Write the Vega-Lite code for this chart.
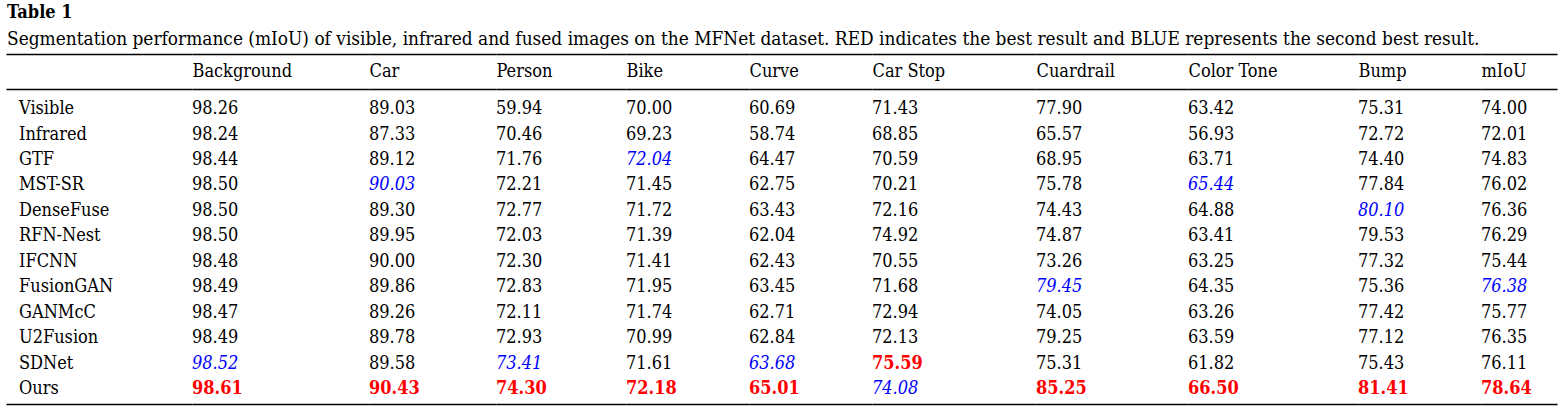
{
  "$schema": "https://vega.github.io/schema/vega-lite/v6.json",
  "padding": {"left": 6, "right": 8, "top": 4, "bottom": 7},
  "background": "white",
  "title": {
    "text": "Table 1",
    "subtitle": "Segmentation performance (mIoU) of visible, infrared and fused images on the MFNet dataset. RED indicates the best result and BLUE represents the second best result.",
    "anchor": "start",
    "frame": "bounds",
    "dx": 1,
    "font": "DejaVu Serif Condensed",
    "fontSize": 18,
    "fontWeight": "bold",
    "color": "black",
    "subtitleFont": "DejaVu Serif Condensed",
    "subtitleFontSize": 18.9,
    "subtitleColor": "black",
    "subtitlePadding": 8,
    "offset": 5
  },
  "data": {
    "values": [
      {"m":"Visible","c":"Background","v":98.26,"r":"n"},{"m":"Visible","c":"Car","v":89.03,"r":"n"},{"m":"Visible","c":"Person","v":59.94,"r":"n"},{"m":"Visible","c":"Bike","v":70.00,"r":"n"},{"m":"Visible","c":"Curve","v":60.69,"r":"n"},{"m":"Visible","c":"Car Stop","v":71.43,"r":"n"},{"m":"Visible","c":"Cuardrail","v":77.90,"r":"n"},{"m":"Visible","c":"Color Tone","v":63.42,"r":"n"},{"m":"Visible","c":"Bump","v":75.31,"r":"n"},{"m":"Visible","c":"mIoU","v":74.00,"r":"n"},
      {"m":"Infrared","c":"Background","v":98.24,"r":"n"},{"m":"Infrared","c":"Car","v":87.33,"r":"n"},{"m":"Infrared","c":"Person","v":70.46,"r":"n"},{"m":"Infrared","c":"Bike","v":69.23,"r":"n"},{"m":"Infrared","c":"Curve","v":58.74,"r":"n"},{"m":"Infrared","c":"Car Stop","v":68.85,"r":"n"},{"m":"Infrared","c":"Cuardrail","v":65.57,"r":"n"},{"m":"Infrared","c":"Color Tone","v":56.93,"r":"n"},{"m":"Infrared","c":"Bump","v":72.72,"r":"n"},{"m":"Infrared","c":"mIoU","v":72.01,"r":"n"},
      {"m":"GTF","c":"Background","v":98.44,"r":"n"},{"m":"GTF","c":"Car","v":89.12,"r":"n"},{"m":"GTF","c":"Person","v":71.76,"r":"n"},{"m":"GTF","c":"Bike","v":72.04,"r":"s"},{"m":"GTF","c":"Curve","v":64.47,"r":"n"},{"m":"GTF","c":"Car Stop","v":70.59,"r":"n"},{"m":"GTF","c":"Cuardrail","v":68.95,"r":"n"},{"m":"GTF","c":"Color Tone","v":63.71,"r":"n"},{"m":"GTF","c":"Bump","v":74.40,"r":"n"},{"m":"GTF","c":"mIoU","v":74.83,"r":"n"},
      {"m":"MST-SR","c":"Background","v":98.50,"r":"n"},{"m":"MST-SR","c":"Car","v":90.03,"r":"s"},{"m":"MST-SR","c":"Person","v":72.21,"r":"n"},{"m":"MST-SR","c":"Bike","v":71.45,"r":"n"},{"m":"MST-SR","c":"Curve","v":62.75,"r":"n"},{"m":"MST-SR","c":"Car Stop","v":70.21,"r":"n"},{"m":"MST-SR","c":"Cuardrail","v":75.78,"r":"n"},{"m":"MST-SR","c":"Color Tone","v":65.44,"r":"s"},{"m":"MST-SR","c":"Bump","v":77.84,"r":"n"},{"m":"MST-SR","c":"mIoU","v":76.02,"r":"n"},
      {"m":"DenseFuse","c":"Background","v":98.50,"r":"n"},{"m":"DenseFuse","c":"Car","v":89.30,"r":"n"},{"m":"DenseFuse","c":"Person","v":72.77,"r":"n"},{"m":"DenseFuse","c":"Bike","v":71.72,"r":"n"},{"m":"DenseFuse","c":"Curve","v":63.43,"r":"n"},{"m":"DenseFuse","c":"Car Stop","v":72.16,"r":"n"},{"m":"DenseFuse","c":"Cuardrail","v":74.43,"r":"n"},{"m":"DenseFuse","c":"Color Tone","v":64.88,"r":"n"},{"m":"DenseFuse","c":"Bump","v":80.10,"r":"s"},{"m":"DenseFuse","c":"mIoU","v":76.36,"r":"n"},
      {"m":"RFN-Nest","c":"Background","v":98.50,"r":"n"},{"m":"RFN-Nest","c":"Car","v":89.95,"r":"n"},{"m":"RFN-Nest","c":"Person","v":72.03,"r":"n"},{"m":"RFN-Nest","c":"Bike","v":71.39,"r":"n"},{"m":"RFN-Nest","c":"Curve","v":62.04,"r":"n"},{"m":"RFN-Nest","c":"Car Stop","v":74.92,"r":"n"},{"m":"RFN-Nest","c":"Cuardrail","v":74.87,"r":"n"},{"m":"RFN-Nest","c":"Color Tone","v":63.41,"r":"n"},{"m":"RFN-Nest","c":"Bump","v":79.53,"r":"n"},{"m":"RFN-Nest","c":"mIoU","v":76.29,"r":"n"},
      {"m":"IFCNN","c":"Background","v":98.48,"r":"n"},{"m":"IFCNN","c":"Car","v":90.00,"r":"n"},{"m":"IFCNN","c":"Person","v":72.30,"r":"n"},{"m":"IFCNN","c":"Bike","v":71.41,"r":"n"},{"m":"IFCNN","c":"Curve","v":62.43,"r":"n"},{"m":"IFCNN","c":"Car Stop","v":70.55,"r":"n"},{"m":"IFCNN","c":"Cuardrail","v":73.26,"r":"n"},{"m":"IFCNN","c":"Color Tone","v":63.25,"r":"n"},{"m":"IFCNN","c":"Bump","v":77.32,"r":"n"},{"m":"IFCNN","c":"mIoU","v":75.44,"r":"n"},
      {"m":"FusionGAN","c":"Background","v":98.49,"r":"n"},{"m":"FusionGAN","c":"Car","v":89.86,"r":"n"},{"m":"FusionGAN","c":"Person","v":72.83,"r":"n"},{"m":"FusionGAN","c":"Bike","v":71.95,"r":"n"},{"m":"FusionGAN","c":"Curve","v":63.45,"r":"n"},{"m":"FusionGAN","c":"Car Stop","v":71.68,"r":"n"},{"m":"FusionGAN","c":"Cuardrail","v":79.45,"r":"s"},{"m":"FusionGAN","c":"Color Tone","v":64.35,"r":"n"},{"m":"FusionGAN","c":"Bump","v":75.36,"r":"n"},{"m":"FusionGAN","c":"mIoU","v":76.38,"r":"s"},
      {"m":"GANMcC","c":"Background","v":98.47,"r":"n"},{"m":"GANMcC","c":"Car","v":89.26,"r":"n"},{"m":"GANMcC","c":"Person","v":72.11,"r":"n"},{"m":"GANMcC","c":"Bike","v":71.74,"r":"n"},{"m":"GANMcC","c":"Curve","v":62.71,"r":"n"},{"m":"GANMcC","c":"Car Stop","v":72.94,"r":"n"},{"m":"GANMcC","c":"Cuardrail","v":74.05,"r":"n"},{"m":"GANMcC","c":"Color Tone","v":63.26,"r":"n"},{"m":"GANMcC","c":"Bump","v":77.42,"r":"n"},{"m":"GANMcC","c":"mIoU","v":75.77,"r":"n"},
      {"m":"U2Fusion","c":"Background","v":98.49,"r":"n"},{"m":"U2Fusion","c":"Car","v":89.78,"r":"n"},{"m":"U2Fusion","c":"Person","v":72.93,"r":"n"},{"m":"U2Fusion","c":"Bike","v":70.99,"r":"n"},{"m":"U2Fusion","c":"Curve","v":62.84,"r":"n"},{"m":"U2Fusion","c":"Car Stop","v":72.13,"r":"n"},{"m":"U2Fusion","c":"Cuardrail","v":79.25,"r":"n"},{"m":"U2Fusion","c":"Color Tone","v":63.59,"r":"n"},{"m":"U2Fusion","c":"Bump","v":77.12,"r":"n"},{"m":"U2Fusion","c":"mIoU","v":76.35,"r":"n"},
      {"m":"SDNet","c":"Background","v":98.52,"r":"s"},{"m":"SDNet","c":"Car","v":89.58,"r":"n"},{"m":"SDNet","c":"Person","v":73.41,"r":"s"},{"m":"SDNet","c":"Bike","v":71.61,"r":"n"},{"m":"SDNet","c":"Curve","v":63.68,"r":"s"},{"m":"SDNet","c":"Car Stop","v":75.59,"r":"b"},{"m":"SDNet","c":"Cuardrail","v":75.31,"r":"n"},{"m":"SDNet","c":"Color Tone","v":61.82,"r":"n"},{"m":"SDNet","c":"Bump","v":75.43,"r":"n"},{"m":"SDNet","c":"mIoU","v":76.11,"r":"n"},
      {"m":"Ours","c":"Background","v":98.61,"r":"b"},{"m":"Ours","c":"Car","v":90.43,"r":"b"},{"m":"Ours","c":"Person","v":74.30,"r":"b"},{"m":"Ours","c":"Bike","v":72.18,"r":"b"},{"m":"Ours","c":"Curve","v":65.01,"r":"b"},{"m":"Ours","c":"Car Stop","v":74.08,"r":"s"},{"m":"Ours","c":"Cuardrail","v":85.25,"r":"b"},{"m":"Ours","c":"Color Tone","v":66.50,"r":"b"},{"m":"Ours","c":"Bump","v":81.41,"r":"b"},{"m":"Ours","c":"mIoU","v":78.64,"r":"b"}
    ]
  },
  "spacing": 0,
  "bounds": "flush",
  "hconcat": [
    {
      "width": 186, "height": 315,
      "transform": [{"filter": {"field": "c", "equal": "Background"}}],
      "encoding": {
        "y": {"field": "m", "type": "nominal", "scale": {"domain": ["Visible","Infrared","GTF","MST-SR","DenseFuse","RFN-Nest","IFCNN","FusionGAN","GANMcC","U2Fusion","SDNet","Ours"], "type": "band", "paddingInner": 0, "paddingOuter": 0.187, "align": 0.77}, "axis": null},
        "text": {"field": "m", "type": "nominal"}
      },
      "layer": [
        {"transform": [{"filter": {"field": "r", "equal": "n"}}], "mark": {"type": "text"},
         "encoding": {"x": {"field": "c", "type": "nominal", "bandPosition": 0, "scale": {"type": "band", "paddingInner": 0, "paddingOuter": 0.08125}, "axis": {"orient": "top", "title": null}}}},
        {"transform": [{"filter": {"field": "r", "equal": "b"}}], "mark": {"type": "text"},
         "encoding": {"x": {"field": "c", "type": "nominal", "bandPosition": 0, "scale": {"type": "band", "paddingInner": 0, "paddingOuter": 0.08125}, "axis": {"orient": "bottom", "title": null}}}},
        {"transform": [{"filter": {"field": "r", "equal": "s"}}], "mark": {"type": "text"},
         "encoding": {"x": {"field": "c", "type": "nominal", "bandPosition": 0, "scale": {"type": "band", "paddingInner": 0, "paddingOuter": 0.08125}, "axis": {"orient": "top", "title": null, "offset": 35}}}}
      ],
      "resolve": {"axis": {"x": "independent"}}
    },
    {
      "width": 177, "height": 315,
      "transform": [{"filter": {"field": "c", "equal": "Background"}}],
      "encoding": {
        "y": {"field": "m", "type": "nominal", "scale": {"domain": ["Visible","Infrared","GTF","MST-SR","DenseFuse","RFN-Nest","IFCNN","FusionGAN","GANMcC","U2Fusion","SDNet","Ours"], "type": "band", "paddingInner": 0, "paddingOuter": 0.187, "align": 0.77}, "axis": null},
        "text": {"field": "v", "type": "quantitative", "format": ".2f"}
      },
      "layer": [
        {"transform": [{"filter": {"field": "r", "equal": "n"}}], "mark": {"type": "text"},
         "encoding": {"x": {"field": "c", "type": "nominal", "bandPosition": 0, "scale": {"type": "band", "paddingInner": 0, "paddingOuter": 0}, "axis": {"orient": "top", "title": "Background"}}}},
        {"transform": [{"filter": {"field": "r", "equal": "b"}}], "mark": {"type": "text", "color": "#ff0000", "fontWeight": "bold"},
         "encoding": {"x": {"field": "c", "type": "nominal", "bandPosition": 0, "scale": {"type": "band", "paddingInner": 0, "paddingOuter": 0}, "axis": {"orient": "bottom", "title": null}}}},
        {"transform": [{"filter": {"field": "r", "equal": "s"}}], "mark": {"type": "text", "color": "#0000ff", "fontStyle": "italic"},
         "encoding": {"x": {"field": "c", "type": "nominal", "bandPosition": 0, "scale": {"type": "band", "paddingInner": 0, "paddingOuter": 0}, "axis": {"orient": "top", "title": null, "offset": 35}}}}
      ],
      "resolve": {"axis": {"x": "independent"}}
    },
    {
      "width": 127, "height": 315,
      "transform": [{"filter": {"field": "c", "equal": "Car"}}],
      "encoding": {
        "y": {"field": "m", "type": "nominal", "scale": {"domain": ["Visible","Infrared","GTF","MST-SR","DenseFuse","RFN-Nest","IFCNN","FusionGAN","GANMcC","U2Fusion","SDNet","Ours"], "type": "band", "paddingInner": 0, "paddingOuter": 0.187, "align": 0.77}, "axis": null},
        "text": {"field": "v", "type": "quantitative", "format": ".2f"}
      },
      "layer": [
        {"transform": [{"filter": {"field": "r", "equal": "n"}}], "mark": {"type": "text"},
         "encoding": {"x": {"field": "c", "type": "nominal", "bandPosition": 0, "scale": {"type": "band", "paddingInner": 0, "paddingOuter": 0}, "axis": {"orient": "top", "title": "Car"}}}},
        {"transform": [{"filter": {"field": "r", "equal": "b"}}], "mark": {"type": "text", "color": "#ff0000", "fontWeight": "bold"},
         "encoding": {"x": {"field": "c", "type": "nominal", "bandPosition": 0, "scale": {"type": "band", "paddingInner": 0, "paddingOuter": 0}, "axis": {"orient": "bottom", "title": null}}}},
        {"transform": [{"filter": {"field": "r", "equal": "s"}}], "mark": {"type": "text", "color": "#0000ff", "fontStyle": "italic"},
         "encoding": {"x": {"field": "c", "type": "nominal", "bandPosition": 0, "scale": {"type": "band", "paddingInner": 0, "paddingOuter": 0}, "axis": {"orient": "top", "title": null, "offset": 35}}}}
      ],
      "resolve": {"axis": {"x": "independent"}}
    },
    {
      "width": 130, "height": 315,
      "transform": [{"filter": {"field": "c", "equal": "Person"}}],
      "encoding": {
        "y": {"field": "m", "type": "nominal", "scale": {"domain": ["Visible","Infrared","GTF","MST-SR","DenseFuse","RFN-Nest","IFCNN","FusionGAN","GANMcC","U2Fusion","SDNet","Ours"], "type": "band", "paddingInner": 0, "paddingOuter": 0.187, "align": 0.77}, "axis": null},
        "text": {"field": "v", "type": "quantitative", "format": ".2f"}
      },
      "layer": [
        {"transform": [{"filter": {"field": "r", "equal": "n"}}], "mark": {"type": "text"},
         "encoding": {"x": {"field": "c", "type": "nominal", "bandPosition": 0, "scale": {"type": "band", "paddingInner": 0, "paddingOuter": 0}, "axis": {"orient": "top", "title": "Person"}}}},
        {"transform": [{"filter": {"field": "r", "equal": "b"}}], "mark": {"type": "text", "color": "#ff0000", "fontWeight": "bold"},
         "encoding": {"x": {"field": "c", "type": "nominal", "bandPosition": 0, "scale": {"type": "band", "paddingInner": 0, "paddingOuter": 0}, "axis": {"orient": "bottom", "title": null}}}},
        {"transform": [{"filter": {"field": "r", "equal": "s"}}], "mark": {"type": "text", "color": "#0000ff", "fontStyle": "italic"},
         "encoding": {"x": {"field": "c", "type": "nominal", "bandPosition": 0, "scale": {"type": "band", "paddingInner": 0, "paddingOuter": 0}, "axis": {"orient": "top", "title": null, "offset": 35}}}}
      ],
      "resolve": {"axis": {"x": "independent"}}
    },
    {
      "width": 123, "height": 315,
      "transform": [{"filter": {"field": "c", "equal": "Bike"}}],
      "encoding": {
        "y": {"field": "m", "type": "nominal", "scale": {"domain": ["Visible","Infrared","GTF","MST-SR","DenseFuse","RFN-Nest","IFCNN","FusionGAN","GANMcC","U2Fusion","SDNet","Ours"], "type": "band", "paddingInner": 0, "paddingOuter": 0.187, "align": 0.77}, "axis": null},
        "text": {"field": "v", "type": "quantitative", "format": ".2f"}
      },
      "layer": [
        {"transform": [{"filter": {"field": "r", "equal": "n"}}], "mark": {"type": "text"},
         "encoding": {"x": {"field": "c", "type": "nominal", "bandPosition": 0, "scale": {"type": "band", "paddingInner": 0, "paddingOuter": 0}, "axis": {"orient": "top", "title": "Bike"}}}},
        {"transform": [{"filter": {"field": "r", "equal": "b"}}], "mark": {"type": "text", "color": "#ff0000", "fontWeight": "bold"},
         "encoding": {"x": {"field": "c", "type": "nominal", "bandPosition": 0, "scale": {"type": "band", "paddingInner": 0, "paddingOuter": 0}, "axis": {"orient": "bottom", "title": null}}}},
        {"transform": [{"filter": {"field": "r", "equal": "s"}}], "mark": {"type": "text", "color": "#0000ff", "fontStyle": "italic"},
         "encoding": {"x": {"field": "c", "type": "nominal", "bandPosition": 0, "scale": {"type": "band", "paddingInner": 0, "paddingOuter": 0}, "axis": {"orient": "top", "title": null, "offset": 35}}}}
      ],
      "resolve": {"axis": {"x": "independent"}}
    },
    {
      "width": 123, "height": 315,
      "transform": [{"filter": {"field": "c", "equal": "Curve"}}],
      "encoding": {
        "y": {"field": "m", "type": "nominal", "scale": {"domain": ["Visible","Infrared","GTF","MST-SR","DenseFuse","RFN-Nest","IFCNN","FusionGAN","GANMcC","U2Fusion","SDNet","Ours"], "type": "band", "paddingInner": 0, "paddingOuter": 0.187, "align": 0.77}, "axis": null},
        "text": {"field": "v", "type": "quantitative", "format": ".2f"}
      },
      "layer": [
        {"transform": [{"filter": {"field": "r", "equal": "n"}}], "mark": {"type": "text"},
         "encoding": {"x": {"field": "c", "type": "nominal", "bandPosition": 0, "scale": {"type": "band", "paddingInner": 0, "paddingOuter": 0}, "axis": {"orient": "top", "title": "Curve"}}}},
        {"transform": [{"filter": {"field": "r", "equal": "b"}}], "mark": {"type": "text", "color": "#ff0000", "fontWeight": "bold"},
         "encoding": {"x": {"field": "c", "type": "nominal", "bandPosition": 0, "scale": {"type": "band", "paddingInner": 0, "paddingOuter": 0}, "axis": {"orient": "bottom", "title": null}}}},
        {"transform": [{"filter": {"field": "r", "equal": "s"}}], "mark": {"type": "text", "color": "#0000ff", "fontStyle": "italic"},
         "encoding": {"x": {"field": "c", "type": "nominal", "bandPosition": 0, "scale": {"type": "band", "paddingInner": 0, "paddingOuter": 0}, "axis": {"orient": "top", "title": null, "offset": 35}}}}
      ],
      "resolve": {"axis": {"x": "independent"}}
    },
    {
      "width": 164, "height": 315,
      "transform": [{"filter": {"field": "c", "equal": "Car Stop"}}],
      "encoding": {
        "y": {"field": "m", "type": "nominal", "scale": {"domain": ["Visible","Infrared","GTF","MST-SR","DenseFuse","RFN-Nest","IFCNN","FusionGAN","GANMcC","U2Fusion","SDNet","Ours"], "type": "band", "paddingInner": 0, "paddingOuter": 0.187, "align": 0.77}, "axis": null},
        "text": {"field": "v", "type": "quantitative", "format": ".2f"}
      },
      "layer": [
        {"transform": [{"filter": {"field": "r", "equal": "n"}}], "mark": {"type": "text"},
         "encoding": {"x": {"field": "c", "type": "nominal", "bandPosition": 0, "scale": {"type": "band", "paddingInner": 0, "paddingOuter": 0}, "axis": {"orient": "top", "title": "Car Stop"}}}},
        {"transform": [{"filter": {"field": "r", "equal": "b"}}], "mark": {"type": "text", "color": "#ff0000", "fontWeight": "bold"},
         "encoding": {"x": {"field": "c", "type": "nominal", "bandPosition": 0, "scale": {"type": "band", "paddingInner": 0, "paddingOuter": 0}, "axis": {"orient": "bottom", "title": null}}}},
        {"transform": [{"filter": {"field": "r", "equal": "s"}}], "mark": {"type": "text", "color": "#0000ff", "fontStyle": "italic"},
         "encoding": {"x": {"field": "c", "type": "nominal", "bandPosition": 0, "scale": {"type": "band", "paddingInner": 0, "paddingOuter": 0}, "axis": {"orient": "top", "title": null, "offset": 35}}}}
      ],
      "resolve": {"axis": {"x": "independent"}}
    },
    {
      "width": 152, "height": 315,
      "transform": [{"filter": {"field": "c", "equal": "Cuardrail"}}],
      "encoding": {
        "y": {"field": "m", "type": "nominal", "scale": {"domain": ["Visible","Infrared","GTF","MST-SR","DenseFuse","RFN-Nest","IFCNN","FusionGAN","GANMcC","U2Fusion","SDNet","Ours"], "type": "band", "paddingInner": 0, "paddingOuter": 0.187, "align": 0.77}, "axis": null},
        "text": {"field": "v", "type": "quantitative", "format": ".2f"}
      },
      "layer": [
        {"transform": [{"filter": {"field": "r", "equal": "n"}}], "mark": {"type": "text"},
         "encoding": {"x": {"field": "c", "type": "nominal", "bandPosition": 0, "scale": {"type": "band", "paddingInner": 0, "paddingOuter": 0}, "axis": {"orient": "top", "title": "Cuardrail"}}}},
        {"transform": [{"filter": {"field": "r", "equal": "b"}}], "mark": {"type": "text", "color": "#ff0000", "fontWeight": "bold"},
         "encoding": {"x": {"field": "c", "type": "nominal", "bandPosition": 0, "scale": {"type": "band", "paddingInner": 0, "paddingOuter": 0}, "axis": {"orient": "bottom", "title": null}}}},
        {"transform": [{"filter": {"field": "r", "equal": "s"}}], "mark": {"type": "text", "color": "#0000ff", "fontStyle": "italic"},
         "encoding": {"x": {"field": "c", "type": "nominal", "bandPosition": 0, "scale": {"type": "band", "paddingInner": 0, "paddingOuter": 0}, "axis": {"orient": "top", "title": null, "offset": 35}}}}
      ],
      "resolve": {"axis": {"x": "independent"}}
    },
    {
      "width": 170, "height": 315,
      "transform": [{"filter": {"field": "c", "equal": "Color Tone"}}],
      "encoding": {
        "y": {"field": "m", "type": "nominal", "scale": {"domain": ["Visible","Infrared","GTF","MST-SR","DenseFuse","RFN-Nest","IFCNN","FusionGAN","GANMcC","U2Fusion","SDNet","Ours"], "type": "band", "paddingInner": 0, "paddingOuter": 0.187, "align": 0.77}, "axis": null},
        "text": {"field": "v", "type": "quantitative", "format": ".2f"}
      },
      "layer": [
        {"transform": [{"filter": {"field": "r", "equal": "n"}}], "mark": {"type": "text"},
         "encoding": {"x": {"field": "c", "type": "nominal", "bandPosition": 0, "scale": {"type": "band", "paddingInner": 0, "paddingOuter": 0}, "axis": {"orient": "top", "title": "Color Tone"}}}},
        {"transform": [{"filter": {"field": "r", "equal": "b"}}], "mark": {"type": "text", "color": "#ff0000", "fontWeight": "bold"},
         "encoding": {"x": {"field": "c", "type": "nominal", "bandPosition": 0, "scale": {"type": "band", "paddingInner": 0, "paddingOuter": 0}, "axis": {"orient": "bottom", "title": null}}}},
        {"transform": [{"filter": {"field": "r", "equal": "s"}}], "mark": {"type": "text", "color": "#0000ff", "fontStyle": "italic"},
         "encoding": {"x": {"field": "c", "type": "nominal", "bandPosition": 0, "scale": {"type": "band", "paddingInner": 0, "paddingOuter": 0}, "axis": {"orient": "top", "title": null, "offset": 35}}}}
      ],
      "resolve": {"axis": {"x": "independent"}}
    },
    {
      "width": 123, "height": 315,
      "transform": [{"filter": {"field": "c", "equal": "Bump"}}],
      "encoding": {
        "y": {"field": "m", "type": "nominal", "scale": {"domain": ["Visible","Infrared","GTF","MST-SR","DenseFuse","RFN-Nest","IFCNN","FusionGAN","GANMcC","U2Fusion","SDNet","Ours"], "type": "band", "paddingInner": 0, "paddingOuter": 0.187, "align": 0.77}, "axis": null},
        "text": {"field": "v", "type": "quantitative", "format": ".2f"}
      },
      "layer": [
        {"transform": [{"filter": {"field": "r", "equal": "n"}}], "mark": {"type": "text"},
         "encoding": {"x": {"field": "c", "type": "nominal", "bandPosition": 0, "scale": {"type": "band", "paddingInner": 0, "paddingOuter": 0}, "axis": {"orient": "top", "title": "Bump"}}}},
        {"transform": [{"filter": {"field": "r", "equal": "b"}}], "mark": {"type": "text", "color": "#ff0000", "fontWeight": "bold"},
         "encoding": {"x": {"field": "c", "type": "nominal", "bandPosition": 0, "scale": {"type": "band", "paddingInner": 0, "paddingOuter": 0}, "axis": {"orient": "bottom", "title": null}}}},
        {"transform": [{"filter": {"field": "r", "equal": "s"}}], "mark": {"type": "text", "color": "#0000ff", "fontStyle": "italic"},
         "encoding": {"x": {"field": "c", "type": "nominal", "bandPosition": 0, "scale": {"type": "band", "paddingInner": 0, "paddingOuter": 0}, "axis": {"orient": "top", "title": null, "offset": 35}}}}
      ],
      "resolve": {"axis": {"x": "independent"}}
    },
    {
      "width": 76, "height": 315,
      "transform": [{"filter": {"field": "c", "equal": "mIoU"}}],
      "encoding": {
        "y": {"field": "m", "type": "nominal", "scale": {"domain": ["Visible","Infrared","GTF","MST-SR","DenseFuse","RFN-Nest","IFCNN","FusionGAN","GANMcC","U2Fusion","SDNet","Ours"], "type": "band", "paddingInner": 0, "paddingOuter": 0.187, "align": 0.77}, "axis": null},
        "text": {"field": "v", "type": "quantitative", "format": ".2f"}
      },
      "layer": [
        {"transform": [{"filter": {"field": "r", "equal": "n"}}], "mark": {"type": "text"},
         "encoding": {"x": {"field": "c", "type": "nominal", "bandPosition": 0, "scale": {"type": "band", "paddingInner": 0, "paddingOuter": 0}, "axis": {"orient": "top", "title": "mIoU"}}}},
        {"transform": [{"filter": {"field": "r", "equal": "b"}}], "mark": {"type": "text", "color": "#ff0000", "fontWeight": "bold"},
         "encoding": {"x": {"field": "c", "type": "nominal", "bandPosition": 0, "scale": {"type": "band", "paddingInner": 0, "paddingOuter": 0}, "axis": {"orient": "bottom", "title": null}}}},
        {"transform": [{"filter": {"field": "r", "equal": "s"}}], "mark": {"type": "text", "color": "#0000ff", "fontStyle": "italic"},
         "encoding": {"x": {"field": "c", "type": "nominal", "bandPosition": 0, "scale": {"type": "band", "paddingInner": 0, "paddingOuter": 0}, "axis": {"orient": "top", "title": null, "offset": 35}}}}
      ],
      "resolve": {"axis": {"x": "independent"}}
    }
  ],
  "config": {
    "view": {"stroke": null},
    "text": {"font": "DejaVu Serif Condensed", "fontSize": 18, "align": "left", "baseline": "middle", "color": "black"},
    "axis": {
      "ticks": false, "tickSize": 0, "grid": false, "labels": false,
      "domainColor": "black", "domainWidth": 1.3,
      "titleFont": "DejaVu Serif Condensed", "titleFontSize": 18, "titleFontWeight": "normal", "titleColor": "black",
      "titleAnchor": "start", "titleAlign": "left", "titleBaseline": "middle", "titlePadding": 18
    }
  }
}
